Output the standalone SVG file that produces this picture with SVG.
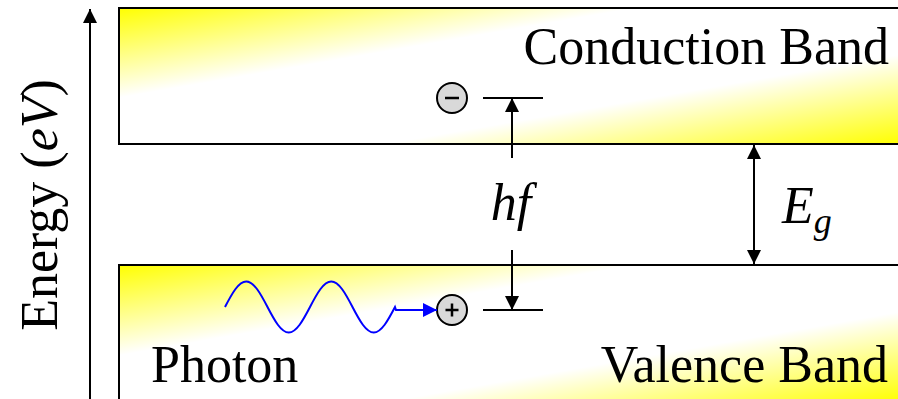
<svg xmlns="http://www.w3.org/2000/svg" width="898" height="399" viewBox="0 0 898 399">
<style>
.t{font-family:"Liberation Serif","Times New Roman",serif;font-size:52px;fill:#000}
.i{font-style:italic}
.band{stroke:#000;stroke-width:2;fill:url(#g)}
.ion{fill:#d9d9d9;stroke:#000;stroke-width:2}
.sgn{stroke:#000;stroke-width:2.5;fill:none}
</style>
<defs>
<linearGradient id="g" x1="0" y1="0" x2="1" y2="1">
<stop offset="0" stop-color="#ffff00"/>
<stop offset="0.33" stop-color="#ffffff"/>
<stop offset="0.67" stop-color="#ffffff"/>
<stop offset="1" stop-color="#ffff00"/>
</linearGradient>
<marker id="ah" viewBox="0 0 14 14" refX="14" refY="7" markerWidth="14" markerHeight="14" markerUnits="userSpaceOnUse" orient="auto">
<path d="M0,0 L14,7 L0,14 z" fill="#000"/>
</marker>
<marker id="ahb" viewBox="0 0 14 14" refX="14" refY="7" markerWidth="14" markerHeight="14" markerUnits="userSpaceOnUse" orient="auto">
<path d="M0,0 L14,7 L0,14 z" fill="#0000ff"/>
</marker>
</defs>

<g id="conduction-band">
<rect class="band" x="119" y="8" width="782" height="136"/>
<text class="t" x="889" y="64" text-anchor="end">Conduction Band</text>
</g>

<g id="valence-band">
<rect class="band" x="119" y="265" width="782" height="137"/>
<text class="t" x="888" y="382" text-anchor="end">Valence Band</text>
</g>

<g id="axis-label">
<text class="t" transform="translate(57,205) rotate(-90)" text-anchor="middle">Energy (<tspan class="i">eV</tspan>)</text>
</g>

<g id="photon-label">
<text class="t" x="151" y="382">Photon</text>
</g>

<g id="electron">
<circle class="ion" cx="452" cy="98" r="15"/>
<path class="sgn" d="M445,98 H459"/>
</g>

<g id="hole">
<circle class="ion" cx="452" cy="310" r="15"/>
<path class="sgn" d="M445.5,310 H458.5 M452,303.5 V316.5"/>
</g>

<g id="hf-label">
<text class="t i" x="511" y="220" text-anchor="middle">hf</text>
</g>

<g id="eg-label">
<text class="t i" x="782" y="223">E<tspan font-size="36" dy="10">g</tspan></text>
</g>

<g id="connectors" fill="none" stroke="#000" stroke-width="2">
<path d="M90,399 V9" marker-end="url(#ah)"/>
<path d="M754,204 V145" marker-end="url(#ah)"/>
<path d="M754,204 V264" marker-end="url(#ah)"/>
<path d="M512,158 V98" marker-end="url(#ah)"/>
<path d="M512,250 V310" marker-end="url(#ah)"/>
<path d="M483,98 H543"/>
<path d="M483,310 H543"/>
<path d="M225,307 c6.92,-13.31 13.56,-25.5 21.25,-25.5 c7.69,0 14.33,12.19 21.25,25.5 c6.92,13.31 13.56,25.5 21.25,25.5 c7.69,0 14.33,-12.19 21.25,-25.5 c6.92,-13.31 13.56,-25.5 21.25,-25.5 c7.69,0 14.33,12.19 21.25,25.5 c6.92,13.31 13.56,25.5 21.25,25.5 c7.69,0 14.33,-12.19 21.25,-25.5 L396,310 H437" stroke="#0000ff" marker-end="url(#ahb)"/>
</g>
</svg>
